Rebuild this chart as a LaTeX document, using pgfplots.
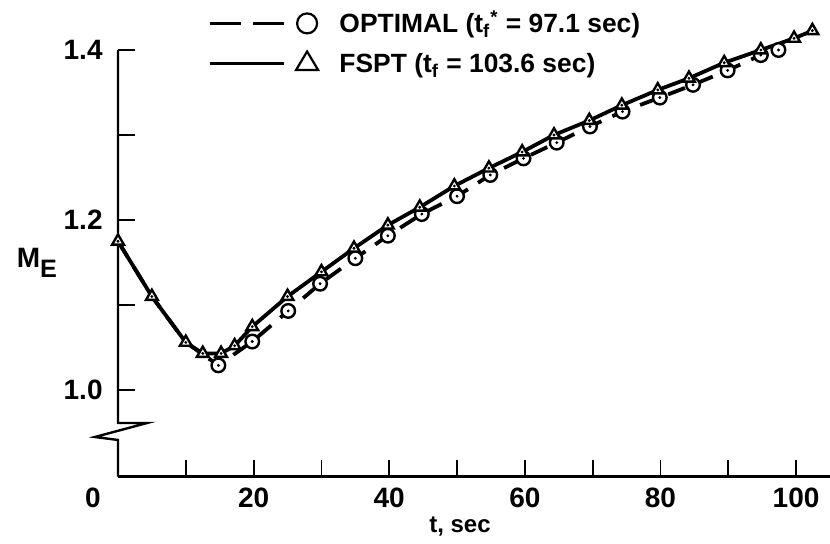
\documentclass[border=0pt]{standalone}
\usepackage{fontspec}
\setmainfont{Liberation Sans}
\usepackage{pgfplots}
\pgfplotsset{compat=1.18}
\usepackage{pgfplotstable}

% optimal trajectory (dashed, circles)
\pgfplotstableread{
t     m
0     1.175
5     1.110
10    1.056
14.8  1.029
19.8  1.057
25.1  1.093
29.8  1.125
35.0  1.155
39.8  1.1815
44.8  1.207
50.0  1.228
54.9  1.253
59.8  1.2725
64.7  1.291
69.6  1.310
74.4  1.3275
79.9  1.344
84.8  1.359
89.9  1.376
94.8  1.394
97.4  1.400
}\optimal

% FSPT (solid, triangles)
\pgfplotstableread{
t     m
0     1.175
5     1.110
10    1.056
12.5  1.043
15.2  1.043
17.2  1.052
19.8  1.0745
25.0  1.110
30.0  1.139
34.8  1.1667
39.8  1.194
44.5  1.215
49.6  1.240
54.7  1.261
59.6  1.280
64.3  1.300
69.5  1.317
74.3  1.335
79.6  1.353
84.2  1.3667
89.4  1.385
94.8  1.400
99.7  1.4137
102.4 1.4227
}\fspt

\begin{document}
\begin{tikzpicture}
\begin{axis}[
  scale only axis,
  width=356pt, height=213.35pt,
  xmin=0, xmax=105, ymin=0.898, ymax=1.4,
  axis lines*=left,
  clip=false,
  axis line style={line width=1.2pt},
  y axis line style={draw=none},
  xtick={10,20,...,100},
  xticklabels={,20,,40,,60,,80,,100},
  ytick={1.0,1.1,1.2,1.3,1.4},
  yticklabels={1.0,,1.2,,1.4},
  tick align=inside,
  major tick length=8.5pt,
  tick style={line width=0.9pt, black},
  tick label style={font=\fontsize{14}{16}\selectfont\bfseries, inner sep=0pt},
  xticklabel style={yshift=-5.5pt},
  yticklabel style={xshift=-7.5pt},
  xlabel={t, sec},
  xlabel style={font=\fontsize{12}{14}\selectfont\bfseries, inner sep=0pt,
    at={(axis description cs:0.4803,-0.1319)}, anchor=base},
  ylabel={M\raisebox{-5pt}{\fontsize{12.6}{14}\selectfont E}},
  ylabel style={font=\fontsize{14}{16}\selectfont\bfseries, inner sep=0pt, rotate=-90,
    at={(axis description cs:-0.1138,0.5008)}, anchor=center},
  legend style={at={(0.1264,1.0937)}, anchor=north west, draw=none, fill=none,
    inner sep=0pt, row sep=7pt,
    font=\fontsize{13.2}{15}\selectfont\bfseries,
    nodes={inner sep=0pt, text height=11pt, text depth=2pt}},
  legend cell align=left,
]
\addlegendimage{legend image code/.code={
  \draw[line width=1.7pt, dash pattern=on 15.5pt off 6pt] (0pt,0pt) -- (37pt,0pt);
  \draw[line width=1.1pt, fill=white] (48.5pt,0pt) circle (5pt);
  \path (64.5pt,0pt);}}
\addlegendentry{OPTIMAL (t\textsubscript{f}\textsuperscript{*} = 97.1 sec)}
\addlegendimage{legend image code/.code={
  \draw[line width=1.7pt] (0pt,0pt) -- (37pt,0pt);
  \draw[line width=1.1pt, line join=miter, fill=white] (43pt,-3.2pt) -- (54pt,-3.2pt) -- (48.5pt,6pt) -- cycle;
  \path (64.5pt,0pt);}}
\addlegendentry{FSPT (t\textsubscript{f} = 103.6 sec)}

\addplot[forget plot, black, line width=1.9pt, dash pattern=on 9pt off 6pt] table[x=t,y=m]{\optimal};
\addplot[forget plot, black, line width=1.9pt] table[x=t,y=m]{\fspt};
\addplot[forget plot, black, only marks, mark=*, mark size=3.4pt,
  mark options={fill=white, draw=black, line width=1.2pt, solid},
  skip coords between index={0}{3}] table[x=t,y=m]{\optimal};
\addplot[forget plot, black, only marks, mark=triangle*, mark size=3.4pt,
  mark options={fill=white, draw=black, line width=1.2pt, solid}] table[x=t,y=m]{\fspt};
\addplot[forget plot, black, only marks, mark=*, mark size=0.5pt,
  skip coords between index={0}{3}] table[x=t,y=m]{\optimal};
\addplot[forget plot, black, only marks, mark=*, mark size=0.5pt] table[x=t,y=m]{\fspt};

% y axis with break mark
\draw[line width=1.2pt, line join=miter] (axis cs:0,1.4) -- (axis cs:0,0.9612)
  -- (axis cs:4.3,0.9612) -- (axis cs:-3.4,0.9447) -- (axis cs:0,0.9412) -- (axis cs:0,0.898);
\node[font=\fontsize{14}{16}\selectfont\bfseries, inner sep=0pt, anchor=north]
  at (axis cs:-3.7,0.898) [yshift=-5.5pt] {0};
\end{axis}
\pgfresetboundingbox
\path[use as bounding box] (-59pt,-33.65pt) rectangle (356pt,238.35pt);
\end{tikzpicture}
\end{document}
